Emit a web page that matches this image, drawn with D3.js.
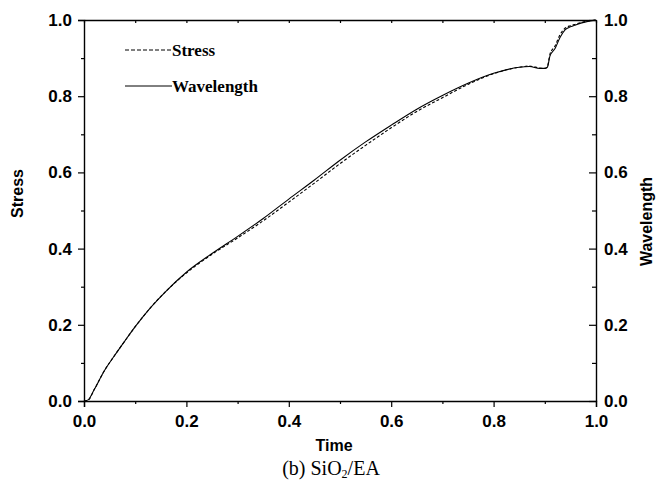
<!DOCTYPE html>
<html>
<head>
<meta charset="utf-8">
<script src="https://cdn.jsdelivr.net/npm/d3@7"></script>
<style>
  body { margin: 0; background: #fff; }
  .tick-label { font-family: "Liberation Sans", Arial, sans-serif; font-weight: bold; font-size: 17px; fill: #000; }
  .axis-title { font-family: "Liberation Sans", Arial, sans-serif; font-weight: bold; font-size: 16px; fill: #000; }
  .legend-text { font-family: "Liberation Serif", "Times New Roman", serif; font-weight: bold; font-size: 17px; fill: #000; }
  .caption { font-family: "Liberation Serif", "Times New Roman", serif; font-size: 20px; fill: #000; }
</style>
</head>
<body>
<div id="chart"></div>
<script>
// Values
const time = [0, 0.008, 0.02, 0.04, 0.06, 0.08, 0.1, 0.13, 0.16, 0.2, 0.25, 0.3, 0.35, 0.4, 0.45, 0.5,
    0.55, 0.6, 0.65, 0.7, 0.75, 0.8, 0.85, 0.87, 0.89, 0.9, 0.905, 0.91, 0.92, 0.93, 0.94, 0.95, 0.96, 0.98, 1.0];
const wavelength = [0, 0.003, 0.03, 0.08, 0.12, 0.158, 0.195, 0.245, 0.288, 0.338, 0.387, 0.432, 0.479, 0.53, 0.58, 0.632,
    0.68, 0.724, 0.766, 0.802, 0.834, 0.86, 0.876, 0.878, 0.873, 0.873, 0.876, 0.905, 0.925, 0.955, 0.975, 0.982, 0.987, 0.995, 1.0];
const stress = [0, 0.002, 0.03, 0.08, 0.12, 0.158, 0.195, 0.245, 0.288, 0.336, 0.385, 0.428, 0.473, 0.522, 0.572, 0.623,
    0.671, 0.717, 0.76, 0.796, 0.831, 0.859, 0.876, 0.879, 0.874, 0.873, 0.878, 0.91, 0.932, 0.962, 0.979, 0.985, 0.989, 0.996, 1.0];
const majorTicks = [0, 0.2, 0.4, 0.6, 0.8, 1.0];
const minorTicks = [0.1, 0.3, 0.5, 0.7, 0.9];
const legendLabels = ["Stress", "Wavelength"];

const W = 658, H = 482;
const margin = { top: 20, right: 62, bottom: 81, left: 84 };
const width = W - margin.left - margin.right;
const height = H - margin.top - margin.bottom;

const svg = d3.select("#chart").append("svg")
    .attr("width", W)
    .attr("height", H);

const g = svg.append("g")
    .attr("transform", `translate(${margin.left},${margin.top})`);

const x = d3.scaleLinear().domain([0, 1]).range([0, width]);
const y = d3.scaleLinear().domain([0, 1]).range([height, 0]);
const fmt = d3.format(".1f");

function styleAxis(sel) {
    sel.select(".domain").attr("stroke", "#000").attr("stroke-width", 1.4);
    sel.selectAll(".tick line").attr("stroke", "#000").attr("stroke-width", 1.2);
    sel.selectAll(".tick text").attr("class", "tick-label").attr("font-size", null).attr("font-family", null);
}

// bottom axis: outward ticks
const bottomAxis = g.append("g").attr("transform", `translate(0,${height})`);
bottomAxis.call(d3.axisBottom(x).tickValues(majorTicks).tickFormat(fmt).tickSize(6).tickPadding(8));
bottomAxis.append("g").call(d3.axisBottom(x).tickValues(minorTicks).tickFormat("").tickSize(3))
    .call(s => s.select(".domain").remove());
styleAxis(bottomAxis);

// left axis: outward ticks
const leftAxis = g.append("g");
leftAxis.call(d3.axisLeft(y).tickValues(majorTicks).tickFormat(fmt).tickSize(6).tickPadding(6));
leftAxis.append("g").call(d3.axisLeft(y).tickValues(minorTicks).tickFormat("").tickSize(3))
    .call(s => s.select(".domain").remove());
styleAxis(leftAxis);

// right axis: inward ticks, labels outside
const rightAxis = g.append("g").attr("transform", `translate(${width},0)`);
rightAxis.call(d3.axisRight(y).tickValues(majorTicks).tickFormat(fmt).tickSizeInner(-7).tickSizeOuter(0).tickPadding(8));
rightAxis.append("g").call(d3.axisRight(y).tickValues(minorTicks).tickFormat("").tickSizeInner(-4).tickSizeOuter(0))
    .call(s => s.select(".domain").remove());
styleAxis(rightAxis);

// top axis: small inward ticks
const topAxis = g.append("g");
topAxis.call(d3.axisTop(x).tickValues(majorTicks.concat(minorTicks)).tickFormat("").tickSizeInner(-3).tickSizeOuter(0));
styleAxis(topAxis);

// curves
const line = d3.line()
    .x((d, i) => x(time[i]))
    .y(d => y(d))
    .curve(d3.curveMonotoneX);

g.append("path")
    .datum(wavelength)
    .attr("fill", "none")
    .attr("stroke", "#000")
    .attr("stroke-width", 1.1)
    .attr("d", line);

g.append("path")
    .datum(stress)
    .attr("fill", "none")
    .attr("stroke", "#000")
    .attr("stroke-width", 1.1)
    .attr("stroke-dasharray", "3,2")
    .attr("d", line);

// axis titles
g.append("text")
    .attr("class", "axis-title")
    .attr("text-anchor", "middle")
    .attr("transform", `translate(-61,${height / 2 - 17}) rotate(-90)`)
    .text("Stress");

g.append("text")
    .attr("class", "axis-title")
    .attr("text-anchor", "middle")
    .attr("transform", `translate(${width + 56},${height / 2 + 11}) rotate(-90)`)
    .text("Wavelength");

g.append("text")
    .attr("class", "axis-title")
    .attr("text-anchor", "middle")
    .attr("x", width / 2 - 6)
    .attr("y", height + 50)
    .text("Time");

svg.append("text")
    .attr("class", "caption")
    .attr("text-anchor", "middle")
    .attr("x", 331)
    .attr("y", 475)
    .html('(b) SiO<tspan dy="3" font-size="12">2</tspan><tspan dy="-3">/EA</tspan>');

// legend
const legend = svg.append("g").attr("transform", "translate(125,50)");
legendLabels.forEach((label, i) => {
    const item = legend.append("g").attr("transform", `translate(0,${i * 36})`);
    item.append("line")
        .attr("x1", 0).attr("x2", 47)
        .attr("y1", 0).attr("y2", 0)
        .attr("stroke", "#000")
        .attr("stroke-width", 1)
        .attr("stroke-dasharray", i === 0 ? "4,2" : null);
    item.append("text")
        .attr("class", "legend-text")
        .attr("x", 47)
        .attr("y", 6)
        .text(label);
});
</script>
</body>
</html>
